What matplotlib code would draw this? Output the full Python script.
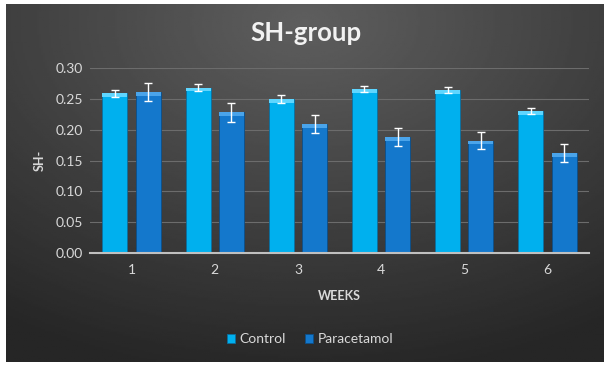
import numpy as np
import matplotlib.pyplot as plt
from matplotlib.patches import Rectangle

plt.rcParams['font.family'] = ['Lato', 'DejaVu Sans']

weeks = ['1', '2', '3', '4', '5', '6']
control = [0.259, 0.268, 0.250, 0.266, 0.264, 0.230]
control_err = [0.006, 0.006, 0.006, 0.005, 0.005, 0.005]
paracetamol = [0.261, 0.228, 0.209, 0.188, 0.182, 0.162]
paracetamol_err = [0.015, 0.015, 0.014, 0.014, 0.014, 0.014]

W, H = 612, 368
fig = plt.figure(figsize=(W / 100, H / 100), dpi=100, facecolor='white')

# dark radial-ish gradient background of the chart area
bg = fig.add_axes([6 / W, 1 - 362 / H, 598 / W, 358 / H])
yy, xx = np.mgrid[0:1:200j, 0:1:300j]
d = np.sqrt(((xx - 0.5) * 1.1) ** 2 + ((yy - 0.05) * 1.0) ** 2)
shade = 0.37 - 0.22 * np.clip(d, 0, 1)
bg.imshow(shade, cmap='gray', vmin=0, vmax=1, aspect='auto', extent=[0, 1, 1, 0])
bg.set_axis_off()

ax = fig.add_axes([90 / W, 1 - 253 / H, 499 / W, 185 / H])
ax.set_facecolor('none')

x = np.arange(len(weeks))
bw = 0.3
c1 = '#00b0ee'
c2 = '#1478cc'
ax.bar(x - 0.2, control, bw, color=c1, edgecolor='#0a6fa0', linewidth=0.6, zorder=3,
       yerr=control_err, error_kw=dict(ecolor='white', elinewidth=1, capsize=3, capthick=1, zorder=4),
       label='Control')
ax.bar(x + 0.2, paracetamol, bw, color=c2, edgecolor='#0b4f8a', linewidth=0.6, zorder=3,
       yerr=paracetamol_err, error_kw=dict(ecolor='white', elinewidth=1, capsize=3, capthick=1, zorder=4),
       label='Paracetamol')

# lighter caps on top of the bars
for xi, v in zip(x - 0.2, control):
    ax.add_patch(Rectangle((xi - bw / 2, v - 0.006), bw, 0.006, color='#5fd6ff', zorder=3.5, lw=0))
for xi, v in zip(x + 0.2, paracetamol):
    ax.add_patch(Rectangle((xi - bw / 2, v - 0.006), bw, 0.006, color='#4aa4ea', zorder=3.5, lw=0))

ax.set_xlim(-0.5, 5.5)
ax.set_ylim(0, 0.30)
ax.set_yticks(np.arange(0, 0.31, 0.05))
ax.set_yticklabels([f'{v:.2f}' for v in np.arange(0, 0.31, 0.05)])
ax.set_xticks(x)
ax.set_xticklabels(weeks)
ax.grid(axis='y', color='#6c6c6c', linewidth=0.8, zorder=0)
for s in ['top', 'right', 'left']:
    ax.spines[s].set_visible(False)
ax.spines['bottom'].set_color('#c0c0c0')
ax.spines['bottom'].set_linewidth(1.5)
ax.spines['bottom'].set_zorder(5)
ax.tick_params(length=0, colors='#d9d9d9', labelsize=10)
ax.tick_params(axis='x', pad=8)
ax.tick_params(axis='y', pad=5)

ax.set_xlabel('WEEKS', color='#d9d9d9', fontsize=9, fontweight='bold', labelpad=10)
ax.set_ylabel('SH-', color='#d9d9d9', fontsize=9, fontweight='bold', labelpad=7)

fig.text(306 / W, 1 - 33 / H, 'SH-group', ha='center', va='center', color='#f2f2f2',
         fontsize=18.5, fontweight='bold')

leg = fig.legend(loc='center', bbox_to_anchor=(310 / W, 1 - 339 / H), ncol=2, frameon=False,
                 fontsize=10, handlelength=0.6, handleheight=0.6, handletextpad=0.3,
                 columnspacing=1.4)
for t in leg.get_texts():
    t.set_color('#d9d9d9')

fig.savefig('out.png', dpi=100, facecolor='white')
